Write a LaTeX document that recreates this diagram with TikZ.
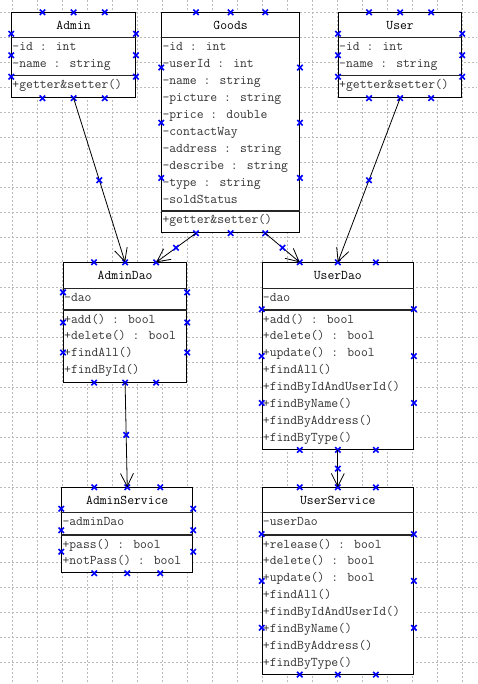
\documentclass[tikz,border=0pt]{standalone}
\usetikzlibrary{positioning, calc, arrows.meta, shapes.misc}
\tikzset{
gridline/.style={gray!55, dash pattern=on 2pt off 2pt, line width=0.6pt}, % dotted page grid
classbox/.style={draw, fill=white, line width=0.9pt, anchor=north west, inner sep=0pt}, % frame of a class
title/.style={font=\ttfamily\fontsize{13.3}{15}\selectfont, minimum height=25.4pt, inner sep=0pt}, % class name
member/.style={font=\ttfamily\fontsize{13.3}{15}\selectfont, text=black!80, anchor=west, inner sep=0pt, text height=8.5pt, text depth=2.5pt}, % one attribute or method
sep/.style={line width=1.1pt, black!85}, % line between compartments
dep/.style={-{Straight Barb[length=13pt, width=13pt]}, line width=0.8pt}, % open arrow
cpt/.style={cross out, draw=blue, line width=1.6pt, minimum size=3.8pt, inner sep=0pt}, % connection point
}
\begin{document}
\begin{tikzpicture}[x=1pt, y=-1pt]
    \useasboundingbox (0,0) rectangle (477,684);
    % grid
    \foreach \g in {12,37,...,462} \draw[gridline] (\g,0) -- (\g,684);
    \foreach \g in {12,37,...,662} \draw[gridline] (0,\g) -- (477,\g);

    % classes
    \node[classbox, minimum width=123.7pt, minimum height=85pt] (admin) at (11.3,12.3) {};
    \node[classbox, minimum width=137.7pt, minimum height=220pt] (goods) at (161.3,12.3) {};
    \node[classbox, minimum width=123.3pt, minimum height=85pt] (user) at (338,12.3) {};
    \node[classbox, minimum width=123.3pt, minimum height=119.4pt] (admindao) at (63,262.3) {};
    \node[classbox, minimum width=151.3pt, minimum height=186.7pt] (userdao) at (261.7,262.3) {};
    \node[classbox, minimum width=131pt, minimum height=85pt] (adminsrv) at (61.3,487.3) {};
    \node[classbox, minimum width=151.3pt, minimum height=186.4pt] (usersrv) at (261.7,487.3) {};

    \node[title, below=0pt of admin.north] (admin-t) {Admin};
    \node[title, below=0pt of goods.north] (goods-t) {Goods};
    \node[title, below=0pt of user.north] (user-t) {User};
    \node[title, below=0pt of admindao.north] (admindao-t) {AdminDao};
    \node[title, below=0pt of userdao.north] (userdao-t) {UserDao};
    \node[title, below=0pt of adminsrv.north] (adminsrv-t) {AdminService};
    \node[title, below=0pt of usersrv.north] (usersrv-t) {UserService};

    \draw[sep] (admin.west |- 0,37.7) -- (admin.east |- 0,37.7) (admin.west |- 0,75.7) -- (admin.east |- 0,75.7);
    \draw[sep] (goods.west |- 0,37.7) -- (goods.east |- 0,37.7) (goods.west |- 0,211) -- (goods.east |- 0,211);
    \draw[sep] (user.west |- 0,37.7) -- (user.east |- 0,37.7) (user.west |- 0,75.7) -- (user.east |- 0,75.7);
    \draw[sep] (admindao.west |- 0,288.3) -- (admindao.east |- 0,288.3) (admindao.west |- 0,310) -- (admindao.east |- 0,310);
    \draw[sep] (userdao.west |- 0,288.3) -- (userdao.east |- 0,288.3) (userdao.west |- 0,310) -- (userdao.east |- 0,310);
    \draw[sep] (adminsrv.west |- 0,512.7) -- (adminsrv.east |- 0,512.7) (adminsrv.west |- 0,535) -- (adminsrv.east |- 0,535);
    \draw[sep] (usersrv.west |- 0,512.7) -- (usersrv.east |- 0,512.7) (usersrv.west |- 0,535) -- (usersrv.east |- 0,535);

    % attributes and methods
    \foreach \txt [count=\i from 0] in {-id : int, -name : string}
        \node[member] (admin-a\i) at (12.3, 47.7+\i*16.95) {\txt};
    \node[member] (admin-m0) at (12.3, 85.7) {+getter\&setter()};
    \foreach \txt [count=\i from 0] in {-id : int, -userId : int, -name : string, -picture : string, -price : double, -contactWay, -address : string, -describe : string, -type : string, -soldStatus}
        \node[member] (goods-a\i) at (162.3, 47.7+\i*16.95) {\txt};
    \node[member] (goods-m0) at (162.3, 220.7) {+getter\&setter()};
    \foreach \txt [count=\i from 0] in {-id : int, -name : string}
        \node[member] (user-a\i) at (339, 47.7+\i*16.95) {\txt};
    \node[member] (user-m0) at (339, 85.7) {+getter\&setter()};
    \node[member] (admindao-a0) at (64, 298) {-dao};
    \foreach \txt [count=\i from 0] in {+add() : bool, +delete() : bool, +findAll(), +findById()}
        \node[member] (admindao-m\i) at (64, 320+\i*16.95) {\txt};
    \node[member] (userdao-a0) at (262.7, 298) {-dao};
    \foreach \txt [count=\i from 0] in {+add() : bool, +delete() : bool, +update() : bool, +findAll(), +findByIdAndUserId(), +findByName(), +findByAddress(), +findByType()}
        \node[member] (userdao-m\i) at (262.7, 320+\i*16.95) {\txt};
    \node[member] (adminsrv-a0) at (62.3, 522.7) {-adminDao};
    \foreach \txt [count=\i from 0] in {+pass() : bool, +notPass() : bool}
        \node[member] (adminsrv-m\i) at (62.3, 545+\i*16.95) {\txt};
    \node[member] (usersrv-a0) at (262.7, 522.7) {-userDao};
    \foreach \txt [count=\i from 0] in {+release() : bool, +delete() : bool, +update() : bool, +findAll(), +findByIdAndUserId(), +findByName(), +findByAddress(), +findByType()}
        \node[member] (usersrv-m\i) at (262.7, 545+\i*16.95) {\txt};

    % connection points
    \foreach \b in {admin, goods, user, admindao, userdao, adminsrv, usersrv}
        \foreach \f [count=\k] in {0.25, 0.5, 0.75} {
            \node[cpt] (\b-n\k) at ($(\b.north west)!\f!(\b.north east)$) {};
            \node[cpt] (\b-s\k) at ($(\b.south west)!\f!(\b.south east)$) {};
            \node[cpt] (\b-w\k) at ($(\b.north west)!\f!(\b.south west)$) {};
            \node[cpt] (\b-e\k) at ($(\b.north east)!\f!(\b.south east)$) {};
        }

    % dependencies
    \draw[dep] (admin-s2.center) -- node[cpt] (c1) {} (admindao-n2.center);
    \draw[dep] (goods-s1.center) -- node[cpt] (c2) {} (admindao-n3.center);
    \draw[dep] (goods-s3.center) -- node[cpt] (c3) {} (userdao-n1.center);
    \draw[dep] (user-s2.center) -- node[cpt] (c4) {} (userdao-n2.center);
    \draw[dep] (admindao-s2.center) -- node[cpt] (c5) {} (adminsrv-n2.center);
    \draw[dep] (userdao-s2.center) -- node[cpt] (c6) {} (usersrv-n2.center);
\end{tikzpicture}
\end{document}
